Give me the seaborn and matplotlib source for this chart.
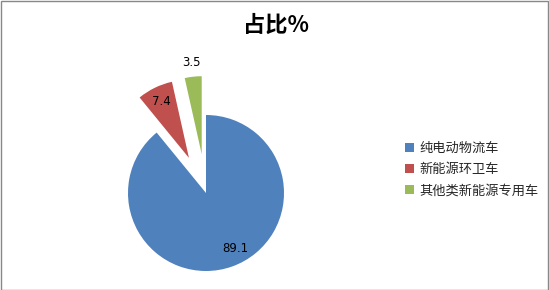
import numpy as np
import matplotlib
matplotlib.use("Agg")
import matplotlib.pyplot as plt
import seaborn as sns
from matplotlib.patches import Rectangle

# ---- data ----
categories = ["纯电动物流车", "新能源环卫车", "其他类新能源专用车"]
values = [89.1, 7.4, 3.5]
value_labels = ["89.1", "7.4", "3.5"]
title_text = "占比%"

# ---- style ----
sns.set_theme(style="white")
plt.rcParams['font.family'] = ['Noto Sans CJK SC', 'DejaVu Sans']
colors = ["#4F81BD", "#C0504D", "#9BBB59"]
explode = [0.0, 0.5, 0.5]
label_dist = [0.8, 0.8, 1.18]

W, H = 549, 290
fig = plt.figure(figsize=(W / 100, H / 100), dpi=100)
fig.patch.set_facecolor("white")

# pie geometry in pixels
cx, cy_top, R = 206, 193, 78
cy = H - cy_top
ax_l, ax_r, ax_b, ax_t = 100, 330, 0, 255
ax = fig.add_axes([ax_l / W, ax_b / H, (ax_r - ax_l) / W, (ax_t - ax_b) / H])

wedges, _ = ax.pie(values, colors=colors, explode=explode, startangle=90,
                   counterclock=False, radius=1.0,
                   wedgeprops=dict(linewidth=0))
ax.set_xlim((ax_l - cx) / R, (ax_r - cx) / R)
ax.set_ylim((ax_b - cy) / R, (ax_t - cy) / R)
ax.set_aspect("auto")
ax.axis("off")

for i, (w, lab, d) in enumerate(zip(wedges, value_labels, label_dist)):
    mid = (w.theta1 + w.theta2) / 2
    if i == 0:
        mid += 8  # label sits a little toward the slice end
    mid = np.deg2rad(mid)
    x0, y0 = w.center
    ax.text(x0 + d * np.cos(mid), y0 + d * np.sin(mid), lab,
            ha="center", va="center", fontsize=8.5, color="black",
            family=['DejaVu Sans'])

fig.text(276 / W, 1 - 25 / H, title_text, ha="center", va="center",
         fontsize=16, fontweight="bold", color="black")

leg = fig.legend(wedges, categories, loc="upper left",
                 bbox_to_anchor=(405 / W, (H - 142) / H),
                 frameon=False, fontsize=9.5, handlelength=0.65,
                 handleheight=0.65, handletextpad=0.45, labelspacing=0.62,
                 borderpad=0, borderaxespad=0)

fig.patches.append(Rectangle((0.5 / W, 0.5 / H), 1 - 1.5 / W, 1 - 1.5 / H,
                             transform=fig.transFigure, fill=False,
                             edgecolor="#888888", linewidth=1))

fig.savefig("out.png", dpi=100)
